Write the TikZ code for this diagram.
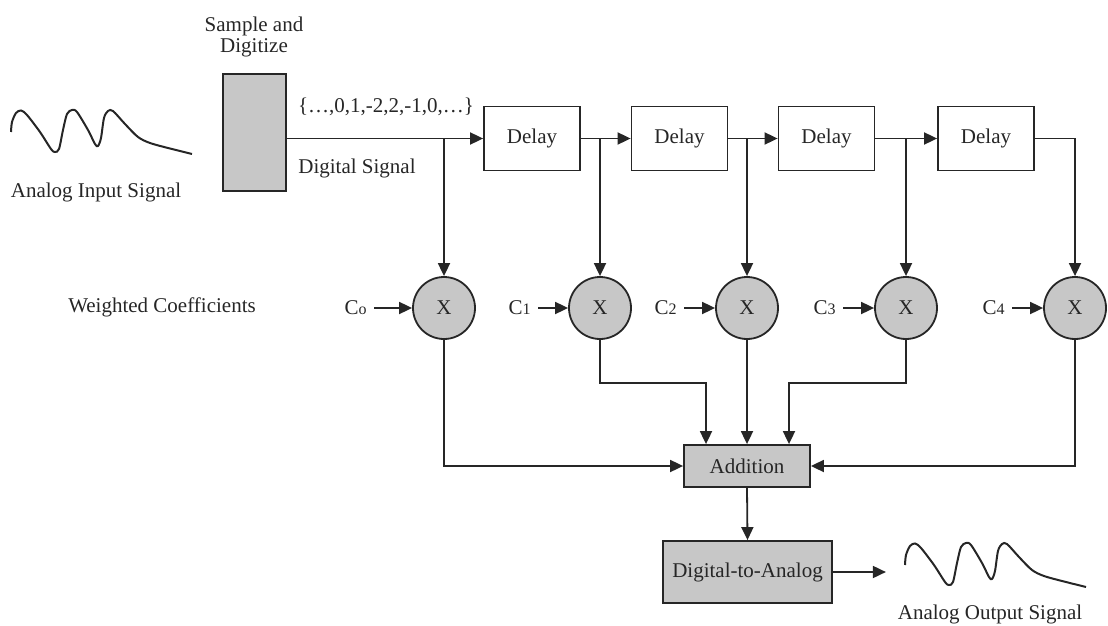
\documentclass[tikz,border=0pt]{standalone}
\usepackage{fontspec}
\setmainfont{Liberation Serif}
\usetikzlibrary{arrows.meta,calc}
\newcommand\smallsub[1]{{\fontsize{8}{8}\selectfont #1}}
\newcommand\wavepts{(11,132) (12,122) (16,113) (21,110.5) (27,115) (40,132) (51,149) (55,152) (59,149) (63,130) (67,114) (72,110) (77,112) (88,130) (95,144) (98,146) (101,138) (104,118) (108,111) (113,111) (125,124) (138,137) (150,143) (168,148) (192,154)}
\begin{document}
\begin{tikzpicture}[x=0.5pt,y=-0.5pt,
  every node/.style={font=\fontsize{10.5}{12.6}\selectfont, text=black!85},
  box/.style={draw=black!85, line width=0.9pt, minimum width=48pt, minimum height=32pt, inner sep=0pt},
  shaded/.style={box, fill=black!22},
  mult/.style={draw=black!85, circle, line width=0.9pt, fill=black!22, minimum size=31pt, inner sep=0pt},
  arr/.style={draw=black!85, line width=0.9pt, -{Triangle[length=6.5pt,width=6pt]}},
  coef/.style={anchor=east, inner sep=0pt},
  wave/.style={draw=black!85, line width=1pt}]
\useasboundingbox (0,0) rectangle (1108,626);

% input waveform
\draw[wave] plot[smooth, tension=0.5] coordinates {\wavepts};
\node (intxt) at (96,192) {Analog Input Signal};

% sample and digitize
\node[align=center, font=\fontsize{10.5}{10.5}\selectfont] (samptxt) at (254,37) {Sample and\\Digitize};
\node[shaded, minimum width=31.5pt, minimum height=58.5pt] (samp) at (254.5,132.5) {};
\node (seq) at (386,107) {\{…,0,1,-2,2,-1,0,…\}};
\node (dig) at (357,168) {Digital Signal};

% delays
\node[box] (d1) at (532,138.5) {Delay};
\node[box] (d2) at (679.5,138.5) {Delay};
\node[box] (d3) at (826.5,138.5) {Delay};
\node[box] (d4) at (986,138.5) {Delay};

% multipliers
\node[mult] (m0) at (444,308) {X};
\node[mult] (m1) at (600,308) {X};
\node[mult] (m2) at (747,308) {X};
\node[mult] (m3) at (906,308) {X};
\node[mult] (m4) at (1075,308) {X};

\node (wc) at (162,307) {Weighted Coefficients};
\node[coef] (c0) at (367,308) {C\smallsub{o}};
\node[coef] (c1) at (531,308) {C\smallsub{1}};
\node[coef] (c2) at (677,308) {C\smallsub{2}};
\node[coef] (c3) at (836,308) {C\smallsub{3}};
\node[coef] (c4) at (1005,308) {C\smallsub{4}};

% addition and D/A
\node[shaded, minimum width=63pt, minimum height=21pt] (add) at (747,466) {Addition};
\node[shaded, minimum width=84.5pt, minimum height=31pt] (da) at (747.5,572) {Digital-to-Analog};
\coordinate (in1) at ($(add.north)+(-41,0)$);
\coordinate (in3) at ($(add.north)+(42,0)$);
\coordinate (dout) at ($(da.east)+(53,0)$);

% signal chain
\draw[arr] (samp.east |- d1.west) -- (d1.west);
\draw[arr] (d1.east) -- (d2.west);
\draw[arr] (d2.east) -- (d3.west);
\draw[arr] (d3.east) -- (d4.west);

% taps
\draw[arr] (m0.north |- d1.west) -- (m0.north);
\draw[arr] (m1.north |- d1.east) -- (m1.north);
\draw[arr] (m2.north |- d2.east) -- (m2.north);
\draw[arr] (m3.north |- d3.east) -- (m3.north);
\draw[arr] (d4.east) -| (m4.north);

% coefficients
\draw[arr, shorten <=3.5pt] (c0.east) -- (m0.west);
\draw[arr, shorten <=3.5pt] (c1.east) -- (m1.west);
\draw[arr, shorten <=3.5pt] (c2.east) -- (m2.west);
\draw[arr, shorten <=3.5pt] (c3.east) -- (m3.west);
\draw[arr, shorten <=3.5pt] (c4.east) -- (m4.west);

% to addition
\draw[arr] (m0.south) |- (add.west);
\draw[arr] (m4.south) |- (add.east);
\draw[arr] (m1.south) -- ++(0,43) -| (in1);
\draw[arr] (m2.south) -- (add.north);
\draw[arr] (m3.south) -- ++(0,43) -| (in3);
\draw[arr] (add.south) -- (da.north);
\draw[arr] (da.east) -- (dout);

% output waveform
\draw[wave, shift={(894,433)}] plot[smooth, tension=0.5] coordinates {\wavepts};
\node (outtxt) at (990,614) {Analog Output Signal};
\end{tikzpicture}
\end{document}
